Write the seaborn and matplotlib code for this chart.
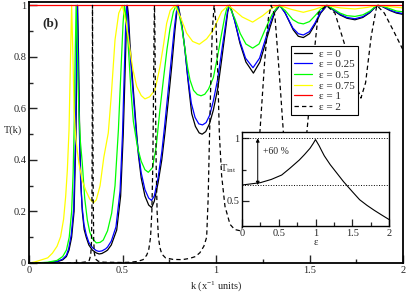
import matplotlib
matplotlib.use("Agg")
import matplotlib.pyplot as plt
import seaborn as sns
import numpy as np

# ---- data ----
# eps = 0 (black)
k_e0 = [0, 0.05, 0.1, 0.15, 0.18, 0.2, 0.214, 0.228, 0.241, 0.251, 0.256, 0.260, 0.265, 0.271, 0.278,
        0.285, 0.295, 0.306, 0.32, 0.339, 0.36, 0.375, 0.39, 0.41, 0.42, 0.44, 0.469, 0.49, 0.504, 0.515,
        0.522, 0.526, 0.532, 0.54, 0.555, 0.576, 0.585, 0.60, 0.62, 0.64, 0.656, 0.67, 0.69, 0.71, 0.727,
        0.745, 0.763, 0.78, 0.79, 0.798, 0.806, 0.82, 0.834, 0.85, 0.87, 0.89, 0.91, 0.926, 0.945, 0.965,
        0.986, 1.01, 1.03, 1.05, 1.063, 1.072, 1.082, 1.1, 1.128, 1.16, 1.2, 1.235, 1.271, 1.289, 1.315,
        1.342, 1.37, 1.413, 1.44, 1.467, 1.5, 1.529, 1.56, 1.594, 1.63, 1.663, 1.7, 1.743, 1.785, 1.824,
        1.85, 1.867, 1.89, 1.93, 1.965, 2.0]
T_e0 = [0, 0.0003, 0.001, 0.005, 0.012, 0.025, 0.05, 0.1, 0.2, 0.5, 0.8, 1.0, 0.8, 0.5, 0.3,
        0.2, 0.13, 0.1, 0.07, 0.05, 0.039, 0.035, 0.037, 0.045, 0.05, 0.07, 0.128, 0.26, 0.5, 0.77,
        0.95, 1.0, 0.96, 0.85, 0.7, 0.5, 0.42, 0.33, 0.26, 0.225, 0.215, 0.24, 0.31, 0.40, 0.505,
        0.63, 0.762, 0.9, 0.97, 1.0, 0.97, 0.91, 0.827, 0.71, 0.58, 0.53, 0.505, 0.50, 0.51, 0.54,
        0.594, 0.68, 0.788, 0.9, 0.975, 1.0, 0.985, 0.94, 0.853, 0.78, 0.737, 0.78, 0.87, 0.915, 0.975,
        1.0, 0.97, 0.905, 0.88, 0.875, 0.89, 0.925, 0.97, 1.0, 0.98, 0.963, 0.95, 0.944, 0.953, 0.972,
        0.992, 1.0, 0.995, 0.98, 0.97, 0.965]

# eps = 0.25 (blue)
k_e025 = [0, 0.05, 0.1, 0.15, 0.18, 0.2, 0.212, 0.226, 0.239, 0.249, 0.254, 0.258, 0.263, 0.269, 0.276,
          0.284, 0.294, 0.306, 0.32, 0.339, 0.36, 0.374, 0.39, 0.41, 0.42, 0.44, 0.465, 0.487, 0.5, 0.511,
          0.518, 0.522, 0.528, 0.536, 0.552, 0.574, 0.585, 0.60, 0.62, 0.64, 0.655, 0.67, 0.69, 0.71, 0.725,
          0.743, 0.76, 0.777, 0.787, 0.795, 0.803, 0.818, 0.832, 0.848, 0.868, 0.888, 0.908, 0.928, 0.947,
          0.967, 0.986, 1.008, 1.028, 1.048, 1.061, 1.07, 1.08, 1.098, 1.126, 1.158, 1.198, 1.233, 1.269,
          1.287, 1.313, 1.34, 1.368, 1.411, 1.44, 1.467, 1.5, 1.528, 1.558, 1.593, 1.63, 1.663, 1.7, 1.743,
          1.785, 1.823, 1.85, 1.866, 1.89, 1.93, 1.965, 2.0]
T_e025 = [0, 0.0004, 0.0015, 0.006, 0.015, 0.03, 0.055, 0.11, 0.21, 0.5, 0.8, 1.0, 0.8, 0.52, 0.32,
          0.22, 0.15, 0.11, 0.08, 0.06, 0.048, 0.045, 0.047, 0.055, 0.062, 0.085, 0.14, 0.28, 0.5, 0.78,
          0.95, 1.0, 0.96, 0.86, 0.7, 0.5, 0.43, 0.35, 0.285, 0.252, 0.243, 0.26, 0.33, 0.43, 0.53,
          0.66, 0.785, 0.91, 0.97, 1.0, 0.975, 0.92, 0.84, 0.73, 0.62, 0.565, 0.54, 0.536, 0.545,
          0.575, 0.63, 0.71, 0.81, 0.91, 0.975, 1.0, 0.985, 0.945, 0.865, 0.795, 0.758, 0.795, 0.88,
          0.925, 0.978, 1.0, 0.973, 0.912, 0.89, 0.885, 0.898, 0.93, 0.972, 1.0, 0.982, 0.966, 0.953, 0.948,
          0.956, 0.974, 0.993, 1.0, 0.996, 0.982, 0.973, 0.968]

# eps = 0.5 (green)
k_e05 = [0, 0.05, 0.1, 0.15, 0.18, 0.2, 0.215, 0.228, 0.236, 0.242, 0.247, 0.252, 0.258, 0.266, 0.275,
         0.285, 0.298, 0.312, 0.325, 0.339, 0.36, 0.38, 0.397, 0.42, 0.442, 0.46, 0.478, 0.492, 0.503, 0.51,
         0.518, 0.53, 0.545, 0.558, 0.58, 0.6, 0.62, 0.638, 0.66, 0.68, 0.70, 0.72, 0.738, 0.754, 0.772,
         0.787, 0.8, 0.818, 0.834, 0.848, 0.861, 0.88, 0.9, 0.92, 0.94, 0.96, 0.986, 1.008, 1.03, 1.048,
         1.062, 1.075, 1.1, 1.13, 1.16, 1.196, 1.23, 1.265, 1.3, 1.335, 1.37, 1.41, 1.44, 1.467, 1.5, 1.53,
         1.56, 1.59, 1.63, 1.663, 1.7, 1.743, 1.785, 1.824, 1.85, 1.865, 1.89, 1.93, 1.965, 2.0]
T_e05 = [0, 0.0008, 0.003, 0.01, 0.025, 0.05, 0.1, 0.2, 0.35, 0.55, 0.8, 1.0, 0.85, 0.6, 0.47,
         0.387, 0.25, 0.167, 0.12, 0.095, 0.078, 0.08, 0.089, 0.125, 0.193, 0.3, 0.516, 0.75, 0.93, 1.0,
         0.96, 0.85, 0.67, 0.55, 0.45, 0.395, 0.362, 0.352, 0.37, 0.45, 0.594, 0.72, 0.83, 0.91, 0.975,
         1.0, 0.975, 0.91, 0.83, 0.76, 0.71, 0.67, 0.654, 0.649, 0.655, 0.675, 0.72, 0.8, 0.89, 0.96,
         1.0, 0.99, 0.95, 0.89, 0.85, 0.834, 0.85, 0.91, 0.965, 1.0, 0.98, 0.945, 0.932, 0.928, 0.937, 0.96,
         0.985, 1.0, 0.985, 0.97, 0.96, 0.957, 0.963, 0.978, 0.995, 1.0, 0.997, 0.987, 0.978, 0.975]

# eps = 0.75 (yellow)
k_e075 = [0, 0.03, 0.053, 0.1, 0.125, 0.15, 0.169, 0.185, 0.196, 0.205, 0.214, 0.222, 0.228, 0.235, 0.241,
          0.25, 0.267, 0.285, 0.303, 0.325, 0.345, 0.36, 0.38, 0.4, 0.424, 0.44, 0.46, 0.48, 0.499, 0.52,
          0.54, 0.556, 0.576, 0.6, 0.62, 0.645, 0.674, 0.70, 0.72, 0.736, 0.755, 0.78, 0.81, 0.843, 0.875,
          0.911, 0.95, 0.986, 1.03, 1.066, 1.1, 1.14, 1.196, 1.25, 1.3, 1.338, 1.4, 1.467, 1.53, 1.59,
          1.665, 1.743, 1.81, 1.865, 1.93, 2.0]
T_e075 = [0, 0.004, 0.009, 0.02, 0.038, 0.065, 0.102, 0.17, 0.257, 0.36, 0.516, 0.8, 1.0, 0.8, 0.6,
          0.48, 0.387, 0.32, 0.283, 0.248, 0.234, 0.245, 0.3, 0.41, 0.505, 0.65, 0.866, 0.97, 1.0, 0.93,
          0.827, 0.75, 0.685, 0.65, 0.637, 0.645, 0.672, 0.76, 0.85, 0.93, 0.98, 1.0, 0.955, 0.892, 0.86,
          0.849, 0.87, 0.905, 0.976, 1.0, 0.98, 0.955, 0.935, 0.96, 0.99, 1.0, 0.985, 0.973, 0.985, 1.0,
          0.99, 0.986, 0.992, 1.0, 0.995, 0.99]

# eps = 1 (red)
k_e1 = [0, 2.0]
T_e1 = [1.0, 1.0]

# eps = 2 (dashed)
k_e2 = [0, 0.1, 0.2, 0.28, 0.31, 0.322, 0.33, 0.334, 0.3365, 0.338, 0.339, 0.3395, 0.3405, 0.342, 0.3435,
        0.346, 0.349, 0.356, 0.37, 0.4, 0.5, 0.54, 0.58, 0.61, 0.629, 0.64, 0.65, 0.657, 0.662, 0.666,
        0.669, 0.671, 0.673, 0.676, 0.68, 0.685, 0.692, 0.70, 0.71, 0.73, 0.77, 0.82, 0.86, 0.89, 0.914,
        0.935, 0.95, 0.958, 0.964, 0.972, 0.98, 0.99, 1.0, 1.01, 1.018, 1.03, 1.048, 1.075, 1.1, 1.13,
        1.16, 1.2, 1.235, 1.26, 1.28, 1.295, 1.315, 1.34, 1.36, 1.39, 1.42, 1.45, 1.485, 1.52, 1.547,
        1.59, 1.636, 1.7, 1.752, 1.775, 1.8, 1.83, 1.86, 1.9, 1.95, 2.0]
T_e2 = [0, 0.0, 0.0005, 0.002, 0.005, 0.01, 0.03, 0.08, 0.2, 0.5, 0.8, 1.0, 0.8, 0.5, 0.25,
        0.09, 0.04, 0.015, 0.007, 0.003, 0.002, 0.003, 0.006, 0.013, 0.03, 0.05, 0.1, 0.2, 0.38, 0.66,
        0.92, 1.0, 0.92, 0.66, 0.38, 0.2, 0.1, 0.06, 0.035, 0.02, 0.014, 0.013, 0.018, 0.025, 0.04,
        0.065, 0.1, 0.25, 0.45, 0.7, 0.9, 1.0, 0.93, 0.72, 0.5, 0.34, 0.22, 0.15, 0.13, 0.125,
        0.16, 0.28, 0.51, 0.78, 0.95, 1.0, 0.96, 0.72, 0.51, 0.38, 0.34, 0.37, 0.5, 0.78, 0.97,
        1.0, 0.97, 0.82, 0.685, 0.64, 0.7, 0.88, 1.0, 0.97, 0.9, 0.827]

# inset: integrated transmission vs eps
eps_in = [0, 0.25, 0.4, 0.54, 0.65, 0.78, 0.85, 0.925, 0.97, 1.0, 1.05, 1.08, 1.12, 1.2, 1.3, 1.38,
          1.5, 1.6, 1.7, 1.8, 1.9, 2.0]
Tint_in = [0.627, 0.646, 0.672, 0.707, 0.76, 0.827, 0.87, 0.92, 0.96, 0.99, 0.94, 0.905, 0.86, 0.79,
           0.715, 0.655, 0.575, 0.51, 0.465, 0.425, 0.388, 0.352]
Tint_ref = 0.627

curves = [
    (k_e0, T_e0, 'black', '-', 'ε = 0'),
    (k_e025, T_e025, '#0000ff', '-', 'ε = 0.25'),
    (k_e05, T_e05, '#00ff00', '-', 'ε = 0.5'),
    (k_e075, T_e075, '#ffff00', '-', 'ε = 0.75'),
    (k_e1, T_e1, '#ff0000', '-', 'ε = 1'),
    (k_e2, T_e2, 'black', (0, (3.5, 2.5)), 'ε = 2'),
]

sns.set_style("ticks")
plt.rcParams['font.family'] = ['Liberation Serif', 'DejaVu Serif']
plt.rcParams['mathtext.fontset'] = 'custom'
plt.rcParams['mathtext.rm'] = 'Liberation Serif'
plt.rcParams['mathtext.it'] = 'Liberation Serif:italic'

fig = plt.figure(figsize=(4.07, 2.93), dpi=100)
ax = fig.add_axes([29 / 407, 1 - 263 / 293, 374 / 407, 261 / 293])

for kk, tt, col, ls, lab in curves:
    sns.lineplot(x=kk, y=tt, ax=ax, color=col, linestyle=ls, linewidth=0.9,
                 label=lab, estimator=None, sort=True)

ax.set_xlim(0, 2)
ax.set_ylim(0, 1.013)
ax.set_xticks([0, 0.5, 1, 1.5, 2])
ax.set_xticklabels(['0', '0.5', '1', '1.5', '2'])
ax.set_xticks(np.arange(0.25, 2, 0.5), minor=True)
ax.set_yticks([0, 0.2, 0.4, 0.6, 0.8, 1.0])
ax.set_yticklabels(['0', '0.2', '0.4', '0.6', '0.8', '1'])
ax.set_yticks(np.arange(0.1, 1.0, 0.2), minor=True)
ax.tick_params(which='major', direction='in', length=6, width=1, labelsize=7.5, pad=2,
               top=False, right=False)
ax.tick_params(which='minor', direction='in', length=3, width=1, top=False, right=False)
for sp in ax.spines.values():
    sp.set_linewidth(1.3)
    sp.set_color('black')

ax.set_xlabel(r'k (x$^{-1}$ units)', fontsize=7.5)
ax.xaxis.set_label_coords(0.5, -0.06)
ax.set_ylabel('T(k)', fontsize=7.5, rotation=0, ha='left', va='center')
ax.yaxis.set_label_coords(-0.066, 0.51)
ax.text(0.035, 0.92, '(b)', transform=ax.transAxes, fontsize=9.5, fontweight='bold', va='center')

leg = ax.legend(loc='upper left', bbox_to_anchor=(0.70, 0.833), borderaxespad=0, fontsize=8,
                frameon=True, fancybox=False, edgecolor='black', framealpha=1, handlelength=1.6,
                labelspacing=0.08, borderpad=0.3, handletextpad=0.6)
leg.get_frame().set_linewidth(0.8)

# inset
iax = fig.add_axes([242 / 407, 1 - 226 / 293, 147 / 407, 93.7 / 293])
iax.set_facecolor('white')
sns.lineplot(x=eps_in, y=Tint_in, ax=iax, color='black', linewidth=0.8, estimator=None)
iax.axhline(1.0, color='black', linestyle=':', linewidth=0.7)
iax.axhline(Tint_ref, color='black', linestyle=':', linewidth=0.7)
iax.annotate('', xy=(0.214, 1.0), xytext=(0.214, Tint_ref),
             arrowprops=dict(arrowstyle='<|-|>', color='black', lw=0.7, shrinkA=0, shrinkB=0,
                             mutation_scale=5))
iax.text(0.29, 0.893, '+60 %', fontsize=7, va='center')
iax.set_xlim(0, 2)
iax.set_ylim(0.3, 1.048)
iax.set_xticks([0, 0.5, 1, 1.5, 2])
iax.set_xticklabels(['0', '0.5', '1', '1.5', '2'])
iax.set_xticks([0.25, 0.75, 1.25, 1.75], minor=True)
iax.set_yticks([0.5, 1.0])
iax.set_yticklabels(['0.5', '1'])
iax.set_yticks([0.75], minor=True)
iax.tick_params(which='major', direction='in', length=5, width=0.9, labelsize=7.5, pad=2)
iax.tick_params(which='minor', direction='in', length=3, width=0.9)
for sp in iax.spines.values():
    sp.set_linewidth(1.0)
    sp.set_color('black')
iax.set_xlabel('ε', fontsize=7.5)
iax.xaxis.set_label_coords(0.5, -0.125)
iax.set_ylabel(r'T$_{\rm int}$', fontsize=7.5, rotation=0, ha='left', va='center')
iax.yaxis.set_label_coords(-0.15, 0.61)

fig.savefig('out.png', dpi=100)
